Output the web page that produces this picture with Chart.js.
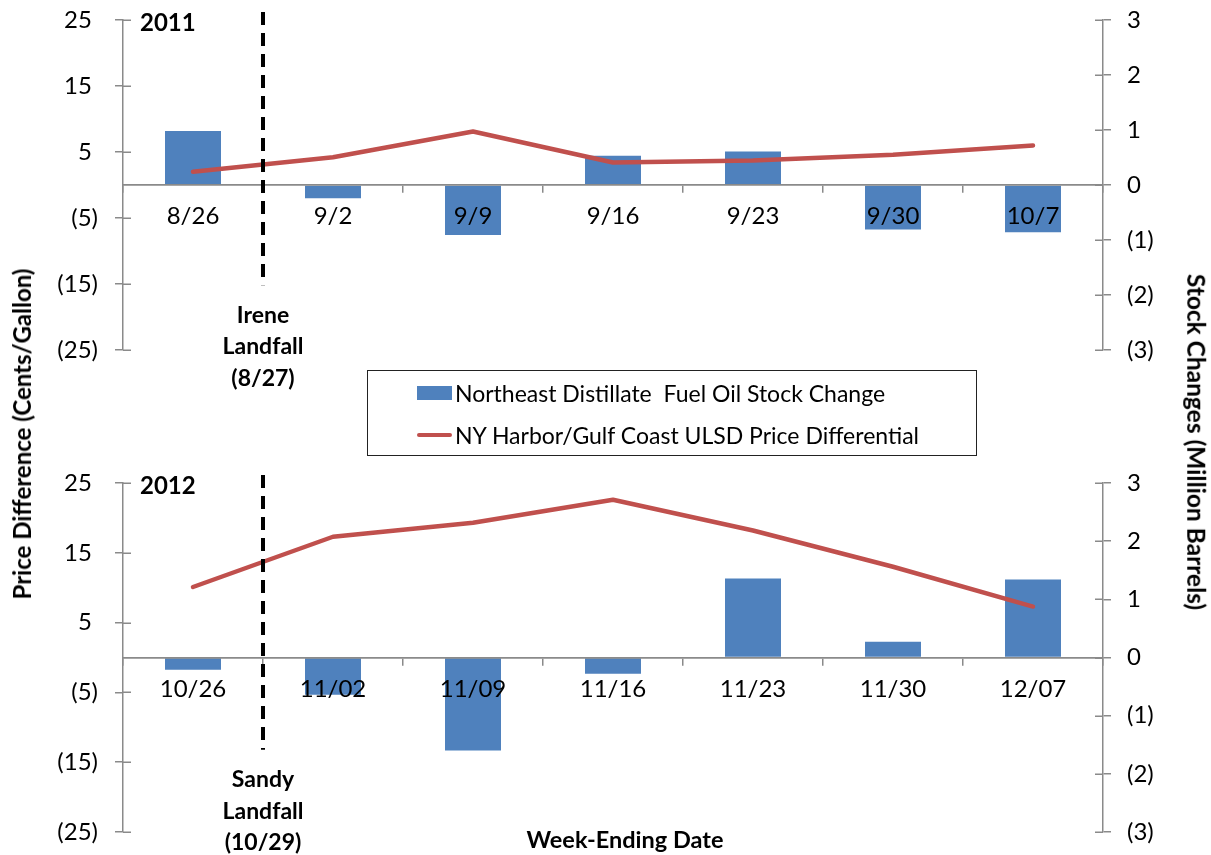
<!DOCTYPE html>
<html>
<head>
<meta charset="utf-8">
<title>Northeast distillate stocks and NY Harbor ULSD spread after Irene and Sandy</title>
<script src="https://cdn.jsdelivr.net/npm/chart.js@4.4.1/dist/chart.umd.min.js"></script>
<style>
  html, body { margin: 0; padding: 0; background: #fff; }
  #wrap { position: relative; width: 1211px; height: 855px; overflow: hidden; font-family: Lato, "Open Sans", sans-serif; color: #000; }
  canvas { position: absolute; left: 0; }
  #c2011 { top: 0; }
  #c2012 { top: 463px; }
  .title { position: absolute; font-weight: bold; white-space: nowrap; line-height: 1; transform-origin: center; }
  #ytitleL { left: 22px; top: 434px; font-size: 24px; transform: translate(-50%, -50%) rotate(-90deg); }
  #ytitleR { left: 1196px; top: 442px; font-size: 24.5px; transform: translate(-50%, -50%) rotate(90deg); }
  #xtitle { left: 625px; top: 840px; font-size: 23.5px; transform: translate(-50%, -50%); }
  #legend { position: absolute; left: 367px; top: 370px; width: 610px; height: 86px; border: 1px solid #222; box-sizing: border-box; font-size: 23px; }
  .lg-row { position: absolute; left: 49px; height: 26px; display: flex; align-items: center; white-space: pre; }
  .lg-row .sw { width: 35px; margin-right: 3px; }
  #lg1 { top: 9px; }
  #lg2 { top: 51px; }
  #lg1 .sw { height: 14px; background: #4F81BD; }
  #lg2 .sw { height: 4.5px; border-radius: 2px; background: #C0504D; }
</style>
</head>
<body>
<div id="wrap">
  <canvas id="c2011" width="1211" height="400"></canvas>
  <canvas id="c2012" width="1211" height="392"></canvas>
  <div id="legend">
    <div class="lg-row" id="lg1"><span class="sw"></span><span>Northeast Distillate  Fuel Oil Stock Change</span></div>
    <div class="lg-row" id="lg2"><span class="sw"></span><span>NY Harbor/Gulf Coast ULSD Price Differential</span></div>
  </div>
  <div class="title" id="ytitleL">Price Difference (Cents/Gallon)</div>
  <div class="title" id="ytitleR">Stock Changes (Million Barrels)</div>
  <div class="title" id="xtitle">Week-Ending Date</div>
</div>
<script>
// Week-ending dates
const weeks2011 = ['8/26', '9/2', '9/9', '9/16', '9/23', '9/30', '10/7'];
const weeks2012 = ['10/26', '11/02', '11/09', '11/16', '11/23', '11/30', '12/07'];

// Northeast distillate fuel oil stock change (million barrels)
const stock2011 = [0.98, -0.24, -0.91, 0.53, 0.61, -0.81, -0.86];
const stock2012 = [-0.21, -0.64, -1.60, -0.28, 1.36, 0.27, 1.34];

// NY Harbor / Gulf Coast ULSD price differential (cents per gallon)
const spread2011 = [2.0, 4.2, 8.1, 3.4, 3.7, 4.6, 6.0];
const spread2012 = [10.1, 17.3, 19.3, 22.6, 18.2, 13.0, 7.3];

// Axis ranges
const priceRange = { min: -25, max: 25, step: 10 };
const stockRange = { min: -3, max: 3, step: 1 };

// Hurricane landfall markers (between the first and second week)
const landfall2011 = ['Irene', 'Landfall', '(8/27)'];
const landfall2012 = ['Sandy', 'Landfall', '(10/29)'];

const AXIS_GREY = '#8a8a8a';
const BLUE = '#4F81BD';
const RED = '#C0504D';
const FONT = 'Lato';

Chart.defaults.font.family = FONT;
Chart.defaults.color = '#000';

// Accounting style: negatives in parentheses, positives padded to line up
const fmtAcct = (v, pad) => v < 0 ? '(' + Math.abs(v) + ')' : String(v) + pad;

// Fixed axis widths so both panels share the same plot frame
function fixWidth(w) {
  return s => { s.width = w; s.paddingTop = 0; s.paddingBottom = 0; };
}

// Cross tick marks on the value axes, the landfall line and its caption, the year tag
const panelDecor = {
  id: 'panelDecor',
  afterDraw(chart, args, o) {
    const ctx = chart.ctx;
    const area = chart.chartArea;
    const xs = chart.scales.x, ys = chart.scales.y, ys1 = chart.scales.y1;
    ctx.save();
    ctx.strokeStyle = AXIS_GREY;
    ctx.lineWidth = 1.5;
    ctx.beginPath();
    ys.ticks.forEach(t => {
      const p = Math.round(ys.getPixelForValue(t.value)) + 0.25;
      ctx.moveTo(area.left, p); ctx.lineTo(area.left + 8, p);
    });
    ys1.ticks.forEach(t => {
      const p = Math.round(ys1.getPixelForValue(t.value)) + 0.25;
      ctx.moveTo(area.right - 8, p); ctx.lineTo(area.right, p);
    });
    ctx.stroke();

    // dashed landfall line
    const ex = xs.getPixelForValue(o.eventAt);
    const yEnd = ys.getPixelForValue(o.eventEnd);
    ctx.strokeStyle = '#000';
    ctx.lineWidth = 4;
    ctx.setLineDash([13, 8]);
    ctx.beginPath();
    ctx.moveTo(ex, area.top - 8);
    ctx.lineTo(ex, yEnd);
    ctx.stroke();
    ctx.setLineDash([]);

    ctx.fillStyle = '#000';
    ctx.font = 'bold 23px ' + FONT;
    ctx.textAlign = 'center';
    ctx.textBaseline = 'middle';
    o.eventText.forEach((s, i) => ctx.fillText(s, ex, yEnd + 30 + i * 31.5));

    ctx.font = 'bold 24px ' + FONT;
    ctx.textAlign = 'left';
    ctx.fillText(o.year, area.left + 17, area.top + 3);
    ctx.restore();
  }
};

function makePanel(id, labels, stock, spread, decor, padTop, padBottom) {
  const tickFont = { family: FONT, size: 24 };
  return new Chart(document.getElementById(id), {
    type: 'bar',
    data: {
      labels: labels,
      datasets: [
        {
          type: 'line',
          label: 'NY Harbor/Gulf Coast ULSD Price Differential',
          data: spread,
          yAxisID: 'y',
          borderColor: RED,
          backgroundColor: RED,
          borderWidth: 4.5,
          pointRadius: 0,
          tension: 0,
          borderCapStyle: 'round',
          borderJoinStyle: 'round',
          order: 0
        },
        {
          type: 'bar',
          label: 'Northeast Distillate Fuel Oil Stock Change',
          data: stock,
          yAxisID: 'y1',
          backgroundColor: BLUE,
          borderWidth: 0,
          barPercentage: 0.4,
          categoryPercentage: 1,
          order: 1
        }
      ]
    },
    options: {
      responsive: false,
      animation: false,
      layout: { padding: { top: padTop, bottom: padBottom, left: 0, right: 0 } },
      plugins: {
        legend: { display: false },
        tooltip: { enabled: false },
        panelDecor: decor
      },
      scales: {
        x: {
          type: 'category',
          position: { y: 0 },
          offset: true,
          grid: { offset: true, drawOnChartArea: false, drawTicks: true, tickLength: 7, color: AXIS_GREY, lineWidth: 1.5, z: 1 },
          border: { display: true, color: AXIS_GREY, width: 1.75, z: 1 },
          ticks: { font: tickFont, color: '#000', padding: 10, maxRotation: 0, autoSkip: false, z: 1 },
          afterFit(s) { s.paddingLeft = 0; s.paddingRight = 0; }
        },
        y: {
          position: 'left',
          min: priceRange.min,
          max: priceRange.max,
          grid: { drawOnChartArea: false, drawTicks: true, tickLength: 8, color: AXIS_GREY, lineWidth: 1.5 },
          border: { display: true, color: AXIS_GREY, width: 1.5 },
          ticks: { stepSize: priceRange.step, font: tickFont, color: '#000', padding: 17, callback: v => fmtAcct(v, ' ') },
          afterFit: fixWidth(123)
        },
        y1: {
          position: 'right',
          min: stockRange.min,
          max: stockRange.max,
          grid: { drawOnChartArea: false, drawTicks: true, tickLength: 8, color: AXIS_GREY, lineWidth: 1.5 },
          border: { display: true, color: AXIS_GREY, width: 1.5 },
          ticks: { stepSize: stockRange.step, font: tickFont, color: '#000', padding: 16, callback: v => fmtAcct(v, '') },
          afterFit: fixWidth(108)
        }
      }
    },
    plugins: [panelDecor]
  });
}

makePanel('c2011', weeks2011, stock2011, spread2011,
  { eventAt: 0.5, eventEnd: -15.2, eventText: landfall2011, year: '2011' }, 20, 50);
makePanel('c2012', weeks2012, stock2012, spread2012,
  { eventAt: 0.5, eventEnd: -13.2, eventText: landfall2012, year: '2012' }, 20, 23);
</script>
</body>
</html>
